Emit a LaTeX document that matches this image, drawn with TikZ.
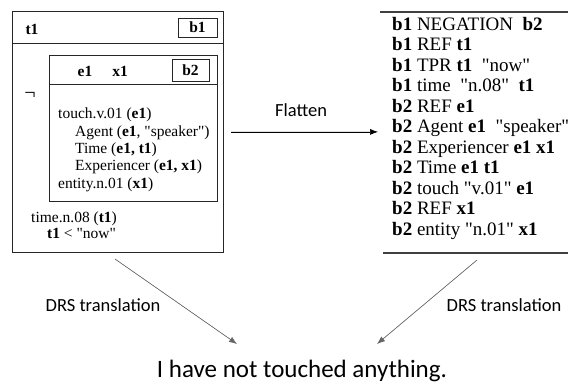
\documentclass[tikz,border=0pt]{standalone}
\usepackage{fontspec}
\defaultfontfeatures[\rmfamily]{}
\setmainfont{Liberation Serif}
\newfontfamily\calibri{Carlito}
\usetikzlibrary{arrows.meta}

\begin{document}
\begin{tikzpicture}[
    x=1pt, y=-1pt,
    drsframe/.style={draw=black!85, line width=0.8pt, inner sep=0pt},
    tag/.style={drsframe, font=\fontsize{15.5}{17}\selectfont\bfseries},
    conds/.style={font=\fontsize{15.5}{17.3}\selectfont, align=left, inner sep=0pt, anchor=north west},
    flatlist/.style={font=\fontsize{19}{20.5}\selectfont, align=left, inner sep=0pt, anchor=north west},
    sanslabel/.style={font=\calibri\fontsize{18.5}{22}\selectfont},
    flow/.style={-{Latex[length=8pt,width=6pt]}, line width=0.6pt, draw=black!60, fill=black}
  ]
  \useasboundingbox (0,0) rectangle (568,382);

  % outer box
  \node[drsframe, minimum width=211pt, minimum height=241pt, anchor=north west] (box1) at (12,11) {};
  \draw[drsframe] (box1.west |- 0,43) -- (box1.east |- 0,43);
  \node[font=\fontsize{15.5}{17}\selectfont\bfseries] (t1) at (32,29) {t1};
  \node[tag, minimum width=39pt, minimum height=19pt] (b1) at (197.5,27.5) {b1};
  \node[font=\fontsize{20}{22}\selectfont] (neg) at (30,96) {¬};

  % inner box
  \node[drsframe, minimum width=168pt, minimum height=146pt, anchor=north west] (box2) at (49,55) {};
  \draw[drsframe] (box2.west |- 0,84) -- (box2.east |- 0,84);
  \node[font=\fontsize{15.5}{17}\selectfont\bfseries] (e1) at (85,71) {e1};
  \node[font=\fontsize{15.5}{17}\selectfont\bfseries] (x1) at (120,71) {x1};
  \node[tag, minimum width=37pt, minimum height=22pt] (b2) at (190.5,70) {b2};
  \node[conds] (conds2) at (58,108) {touch.v.01 (\textbf{e1})\\
    \hspace*{17pt}Agent (\textbf{e1}, \textquotedbl speaker\textquotedbl)\\
    \hspace*{17pt}Time (\textbf{e1, t1})\\
    \hspace*{17pt}Experiencer (\textbf{e1, x1})\\
    entity.n.01 (\textbf{x1})};
  \node[conds] (conds1) at (31,212) {time.n.08 (\textbf{t1})\\[-1.5pt]
    \hspace*{16pt}\textbf{t1} < \textquotedbl now\textquotedbl};

  % flat clauses
  \draw[line width=1.6pt, black!75] (380,12) -- (568,12);
  \draw[line width=1.6pt, black!75] (383,253) -- (568,253);
  \node[flatlist] (flat) at (392,17) {\textbf{b1} NEGATION\ \ \textbf{b2}\\
    \textbf{b1} REF \textbf{t1}\\
    \textbf{b1} TPR \textbf{t1}\ \ \textquotedbl now\textquotedbl\\
    \textbf{b1} time\ \ \textquotedbl n.08\textquotedbl\ \ \textbf{t1}\\
    \textbf{b2} REF \textbf{e1}\\
    \textbf{b2} Agent \textbf{e1}\ \ \textquotedbl speaker\textquotedbl\\
    \textbf{b2} Experiencer \textbf{e1 x1}\\
    \textbf{b2} Time \textbf{e1 t1}\\
    \textbf{b2} touch \textquotedbl v.01\textquotedbl\ \textbf{e1}\\
    \textbf{b2} REF \textbf{x1}\\
    \textbf{b2} entity \textquotedbl n.01\textquotedbl\ \textbf{x1}};

  \draw[flow, draw=black, shorten <=7pt, shorten >=14pt] (box1.east) -- (box1.east -| flat.west)
    node[pos=0.46, above=11.5pt, sanslabel] (flatten) {Flatten};

  % translation
  \coordinate (from1) at (115,259);
  \coordinate (to1) at (237,344);
  \coordinate (from2) at (477,260);
  \coordinate (to2) at (377,344);
  \node[sanslabel] (tr1) at (103,305) {DRS translation};
  \node[sanslabel] (tr2) at (504,305) {DRS translation};
  \node[font=\calibri\fontsize{25}{30}\selectfont, anchor=base] (sent) at (302,377) {I have not touched anything.};
  \draw[flow] (from1) -- (to1);
  \draw[flow] (from2) -- (to2);
\end{tikzpicture}
\end{document}
